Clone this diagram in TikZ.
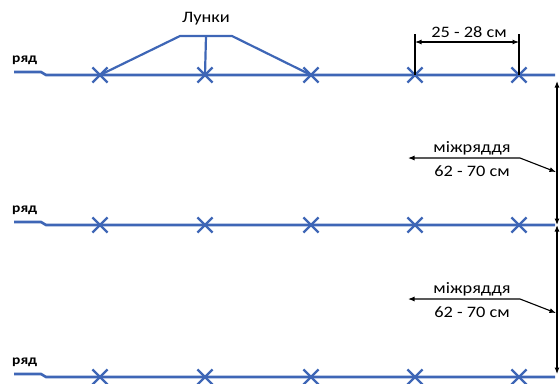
\documentclass[tikz,border=0pt]{standalone}
\usepackage{fontspec}
\setmainfont{Carlito}[FakeStretch=1.15]
\usetikzlibrary{arrows.meta,shapes.misc}
\definecolor{rowblue}{RGB}{62,102,182}
\begin{document}
\begin{tikzpicture}[x=1bp,y=-1bp,
  rowline/.style={draw=rowblue,line width=2.6bp},
  hole/.style={cross out,draw=rowblue,line width=2.2bp,minimum size=13bp,inner sep=0pt},
  dimline/.style={draw=black,line width=1.1bp},
  dimarrow/.style={dimline,{Latex[length=6.5bp,width=5bp]}-{Latex[length=6.5bp,width=5bp]}},
  lbl/.style={font=\fontsize{16}{17}\selectfont,inner sep=0pt},
  rowlbl/.style={font=\bfseries\fontsize{13.5}{14}\selectfont,inner sep=0pt}]
\useasboundingbox (0,0) rectangle (560,383);

% three rows with their planting holes
\foreach \r/\y in {1/75,2/225,3/377}{
  \coordinate (s\r) at (14,\y-3);
  \coordinate (k\r) at (41,\y-3);
  \coordinate (b\r) at (46,\y);
  \coordinate (e\r) at (555,\y);
  \draw[rowline] (s\r) -- (k\r) -- (b\r) -- (e\r);
  \foreach \i/\x in {1/100,2/205,3/311,4/415,5/519}
    \node[hole] (h\r\i) at (\x,\y) {};
  \node[rowlbl,anchor=west] (r\r) at (12,\y-15) {ряд};
}

% "Лунки" pointer
\node[lbl] (lunki) at (206,19) {Лунки};
\coordinate (tl) at (180,36);
\coordinate (tm) at (206,36);
\coordinate (tr) at (232,36);
\draw[rowline,line width=2.2bp] (h11.center) -- (tl) -- (tr) -- (h13.center);
\draw[rowline,line width=2.2bp] (tm) -- (h12.center);

% spacing within the row
\coordinate (d1) at (415,34);
\coordinate (d2) at (519,34);
\coordinate (a1) at (415,42);
\coordinate (a2) at (519,42);
\draw[dimline] (h14.center) -- (d1);
\draw[dimline] (h15.center) -- (d2);
\draw[dimarrow] (a1) -- (a2);
\node[lbl] (step) at (469,32) {25 - 28 см};

% spacing between rows
\coordinate (v1) at (557,81);
\coordinate (v2) at (557,225);
\coordinate (v3) at (557,374);
\draw[dimarrow] (v1) -- (v2);
\draw[dimarrow] (v2) -- (v3);

\foreach \n/\y in {1/158,2/299}{
  \coordinate (ml\n) at (408,\y);
  \coordinate (mc\n) at (520,\y);
  \coordinate (mr\n) at (556,\y+14);
  \draw[dimarrow] (ml\n) -- (mc\n) -- (mr\n);
  \node[lbl] (mt\n) at (472,\y-10) {міжряддя};
  \node[lbl] (mb\n) at (472,\y+13) {62 - 70 см};
}
\end{tikzpicture}
\end{document}
